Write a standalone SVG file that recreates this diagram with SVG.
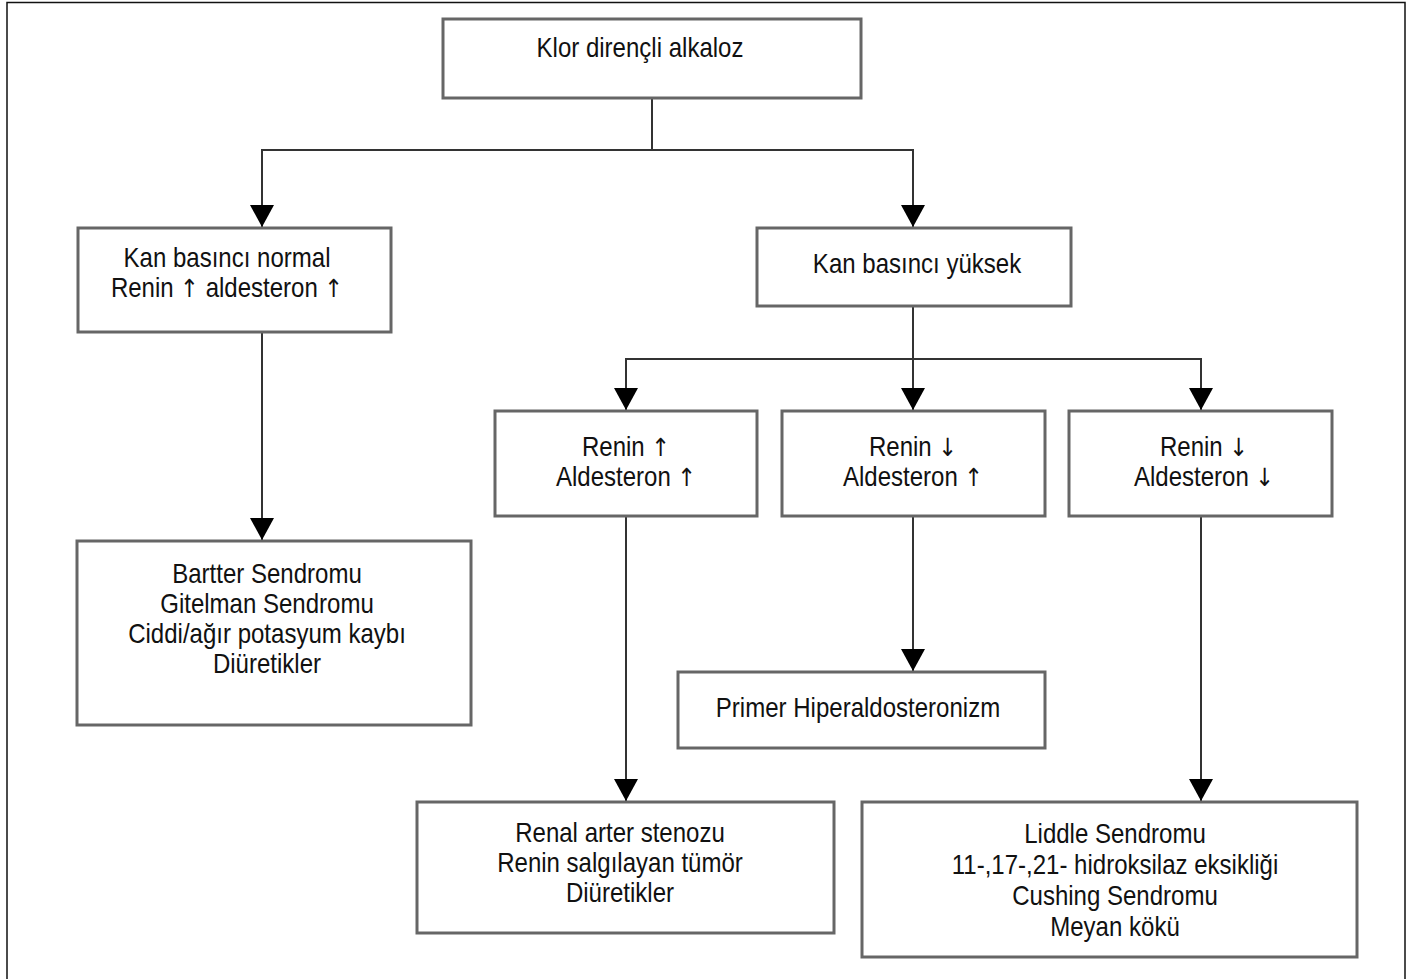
<svg xmlns="http://www.w3.org/2000/svg" width="1417" height="979" viewBox="0 0 1417 979">
<style>
.box{fill:#fff;stroke:#666;stroke-width:3}
.t{font-family:"Liberation Sans",Arial,sans-serif;font-size:27px;fill:#111;text-anchor:middle}
.ar{font-family:"DejaVu Sans","Liberation Sans",sans-serif;font-size:25px;fill:#111}
.c{fill:none;stroke:#333;stroke-width:2}
</style>
<defs>
<marker id="ah" markerUnits="userSpaceOnUse" markerWidth="22" markerHeight="24" refX="22" refY="12" orient="auto">
<path d="M0,0 L22,12 L0,24 z" fill="#000"/>
</marker>
</defs>
<rect width="1417" height="979" fill="#fff"/>
<path d="M7,979 V2.5 H1405 V979" fill="none" stroke="#111" stroke-width="1.5"/>
<g id="connectors">
<path class="c" d="M652,98 V150 H262 V227" marker-end="url(#ah)"/>
<path class="c" d="M652,150 H913 V227" marker-end="url(#ah)"/>
<path class="c" d="M262,332 V540" marker-end="url(#ah)"/>
<path class="c" d="M913,306 V359 H626 V410" marker-end="url(#ah)"/>
<path class="c" d="M913,359 V410" marker-end="url(#ah)"/>
<path class="c" d="M913,359 H1201 V410" marker-end="url(#ah)"/>
<path class="c" d="M626,516 V801" marker-end="url(#ah)"/>
<path class="c" d="M913,516 V671" marker-end="url(#ah)"/>
<path class="c" d="M1201,516 V801" marker-end="url(#ah)"/>
</g>
<g id="n-klor">
<rect class="box" x="443" y="19" width="418" height="79"/>
<text class="t" transform="translate(640 57) scale(0.89 1)">Klor dirençli alkaloz</text>
</g>
<g id="n-normal">
<rect class="box" x="78" y="228" width="313" height="104"/>
<text class="t" transform="translate(227 267) scale(0.89 1)">Kan basıncı normal</text>
<text class="t" transform="translate(227 297) scale(0.89 1)">Renin <tspan class="ar">↑</tspan> aldesteron <tspan class="ar">↑</tspan></text>
</g>
<g id="n-yuksek">
<rect class="box" x="757" y="228" width="314" height="78"/>
<text class="t" transform="translate(917 273) scale(0.89 1)">Kan basıncı yüksek</text>
</g>
<g id="n-bartter">
<rect class="box" x="77" y="541" width="394" height="184"/>
<text class="t" transform="translate(267 583) scale(0.89 1)">Bartter Sendromu</text>
<text class="t" transform="translate(267 613) scale(0.89 1)">Gitelman Sendromu</text>
<text class="t" transform="translate(267 643) scale(0.89 1)">Ciddi/ağır potasyum kaybı</text>
<text class="t" transform="translate(267 673) scale(0.89 1)">Diüretikler</text>
</g>
<g id="n-a">
<rect class="box" x="495" y="411" width="262" height="105"/>
<text class="t" transform="translate(626 456) scale(0.89 1)">Renin <tspan class="ar">↑</tspan></text>
<text class="t" transform="translate(626 486) scale(0.89 1)">Aldesteron <tspan class="ar">↑</tspan></text>
</g>
<g id="n-b">
<rect class="box" x="782" y="411" width="263" height="105"/>
<text class="t" transform="translate(913 456) scale(0.89 1)">Renin <tspan class="ar">↓</tspan></text>
<text class="t" transform="translate(913 486) scale(0.89 1)">Aldesteron <tspan class="ar">↑</tspan></text>
</g>
<g id="n-c">
<rect class="box" x="1069" y="411" width="263" height="105"/>
<text class="t" transform="translate(1204 456) scale(0.89 1)">Renin <tspan class="ar">↓</tspan></text>
<text class="t" transform="translate(1204 486) scale(0.89 1)">Aldesteron <tspan class="ar">↓</tspan></text>
</g>
<g id="n-primer">
<rect class="box" x="678" y="672" width="367" height="76"/>
<text class="t" transform="translate(858 717) scale(0.89 1)">Primer Hiperaldosteronizm</text>
</g>
<g id="n-renal">
<rect class="box" x="417" y="802" width="417" height="131"/>
<text class="t" transform="translate(620 842) scale(0.89 1)">Renal arter stenozu</text>
<text class="t" transform="translate(620 872) scale(0.89 1)">Renin salgılayan tümör</text>
<text class="t" transform="translate(620 902) scale(0.89 1)">Diüretikler</text>
</g>
<g id="n-liddle">
<rect class="box" x="862" y="802" width="495" height="155"/>
<text class="t" transform="translate(1115 843) scale(0.89 1)">Liddle Sendromu</text>
<text class="t" transform="translate(1115 874) scale(0.89 1)">11-,17-,21- hidroksilaz eksikliği</text>
<text class="t" transform="translate(1115 905) scale(0.89 1)">Cushing Sendromu</text>
<text class="t" transform="translate(1115 936) scale(0.89 1)">Meyan kökü</text>
</g>
</svg>
